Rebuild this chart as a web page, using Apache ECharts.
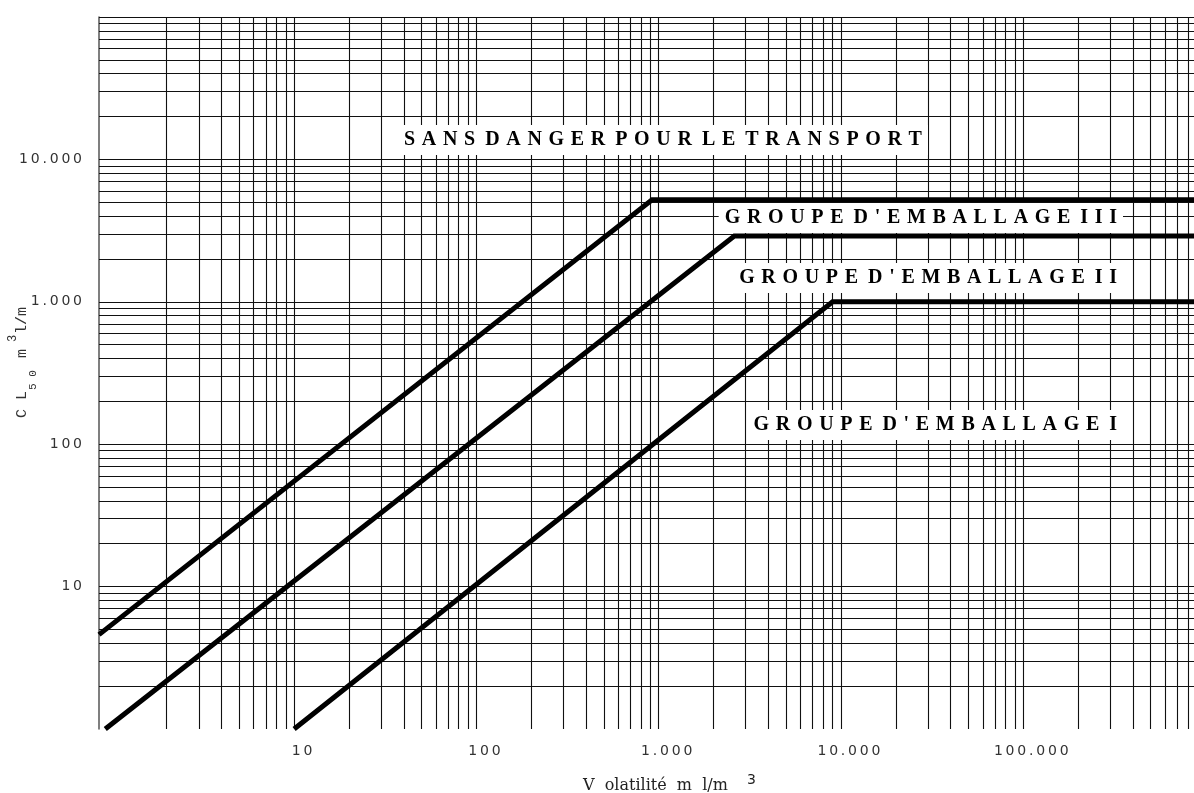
<!DOCTYPE html>
<html>
<head>
<meta charset="utf-8">
<script src="https://cdn.jsdelivr.net/npm/echarts@6/dist/echarts.min.js"></script>
<style>
  html, body { margin: 0; padding: 0; background: #fff; }
  #chart { width: 1194px; height: 793px; }
</style>
</head>
<body>
<div id="chart"></div>
<script>
// Volatilité (ml/m³) on x, CL50 (ml/m³) on y, both on log-log paper
const xRange = [0.85, 865000];
const yRange = [1, 100000];

const xTickValues = [10, 100, 1000, 10000, 100000];
const xTickLabels = ['10', '100', '1.000', '10.000', '100.000'];
const yTickValues = [10, 100, 1000, 10000];
const yTickLabels = ['10', '100', '1.000', '10.000'];

// Boundary lines between the zones: [volatilité, CL50]
const limitIII = [[0.85, 4.6], [920, 5200], [865000, 5200]];
const limitII = [[0.92, 1], [2600, 2900], [865000, 2900]];
const limitI = [[10, 1], [9000, 1000], [865000, 1000]];

const zoneNames = [
  'SANS DANGER POUR LE TRANSPORT',
  "GROUPE D'EMBALLAGE III",
  "GROUPE D'EMBALLAGE II",
  "GROUPE D'EMBALLAGE I"
];

// log-paper rulings: every 1..9 x 10^n between lo and hi
function rulings(lo, hi) {
  const out = [];
  for (let e = 0; e <= 6; e++) {
    for (let k = 1; k <= 9; k++) {
      const v = k * Math.pow(10, e);
      if (v >= lo && v <= hi) out.push(v);
    }
  }
  return out;
}
const xRulings = rulings(2, xRange[1]);
const yRulings = rulings(2, yRange[1]);

function tickText(values, labels) {
  return function (v) {
    for (let i = 0; i < values.length; i++) {
      if (Math.abs(Math.log10(v) - Math.log10(values[i])) < 1e-6) {
        return labels[i].split('').join('\u2009');
      }
    }
    return '';
  };
}

// letter-spaced display of the zone titles
function spaced(s) {
  return s.split(' ').map(w => w.split('').join('\u2004')).join('\u2002');
}

const tickFont = { fontFamily: 'DejaVu Sans', fontSize: 14, color: '#333' };
const zoneFont = 'bold 20px "Liberation Serif"';
const monoFont = '"Liberation Mono"';

function txt(text, x, y, font, fill, extra) {
  return {
    type: 'text', z: 50, x: x, y: y,
    style: Object.assign({
      legacy: false, text: text, x: 0, y: 0, font: font, fill: fill,
      align: 'left', verticalAlign: 'middle'
    }, extra || {})
  };
}

function zoneText(name, x, y, align) {
  return txt(spaced(name), x, y, zoneFont, '#000',
    { align: align, backgroundColor: '#fff', padding: [5, 6] });
}

function boundary(name, data) {
  return {
    name: name, type: 'line', data: data, z: 60,
    symbol: 'none', clip: true, silent: true,
    lineStyle: { color: '#000', width: 5, join: 'miter', cap: 'butt' }
  };
}

const chart = echarts.init(document.getElementById('chart'));
chart.setOption({
  animation: false,
  backgroundColor: '#fff',
  grid: { left: 99, right: 0, top: 17, bottom: 64, containLabel: false, outerBoundsMode: 'none' },
  xAxis: {
    type: 'log', logBase: 10, min: xRange[0], max: xRange[1],
    axisLine: { show: false }, axisTick: { show: false }, splitLine: { show: false },
    axisLabel: Object.assign({ margin: 15, padding: [0, 0, 0, 16], formatter: tickText(xTickValues, xTickLabels) }, tickFont)
  },
  yAxis: {
    type: 'log', logBase: 10, min: yRange[0], max: yRange[1],
    axisLine: { show: true, lineStyle: { color: '#555', width: 1.5 } },
    axisTick: { show: false }, splitLine: { show: false },
    axisLabel: Object.assign({ margin: 17, formatter: tickText(yTickValues, yTickLabels) }, tickFont)
  },
  series: [
    {
      name: 'quadrillage', type: 'line', data: [], z: 1, silent: true,
      markLine: {
        silent: true, symbol: 'none', animation: false,
        label: { show: false },
        lineStyle: { color: '#111', width: 1.1, type: 'solid' },
        emphasis: { disabled: true },
        data: xRulings.map(v => ({ xAxis: v })).concat(yRulings.map(v => ({ yAxis: v })))
      }
    },
    boundary('III', limitIII),
    boundary('II', limitII),
    boundary('I', limitI)
  ],
  graphic: [
    zoneText(zoneNames[0], 663, 140, 'center'),
    zoneText(zoneNames[1], 1123, 218, 'right'),
    zoneText(zoneNames[2], 1123, 278, 'right'),
    zoneText(zoneNames[3], 1123, 425, 'right'),
    // x-axis title
    txt('V  olatilité  m  l/m', 583, 786, '16px "DejaVu Serif"', '#222'),
    txt('3', 747, 780, '14px "DejaVu Sans"', '#222'),
    // y-axis title, read bottom to top
    {
      type: 'group', x: 22, y: 418, rotation: Math.PI / 2,
      children: [
        txt('C L', 0, 0, '15px ' + monoFont, '#333'),
        txt('5 0', 28, 11, '11px ' + monoFont, '#333'),
        txt('m', 60, 0, '15px ' + monoFont, '#333'),
        txt('3', 76, -9, '12px ' + monoFont, '#333'),
        txt('l/m', 84, 0, '15px ' + monoFont, '#333')
      ]
    }
  ]
});
</script>
</body>
</html>
